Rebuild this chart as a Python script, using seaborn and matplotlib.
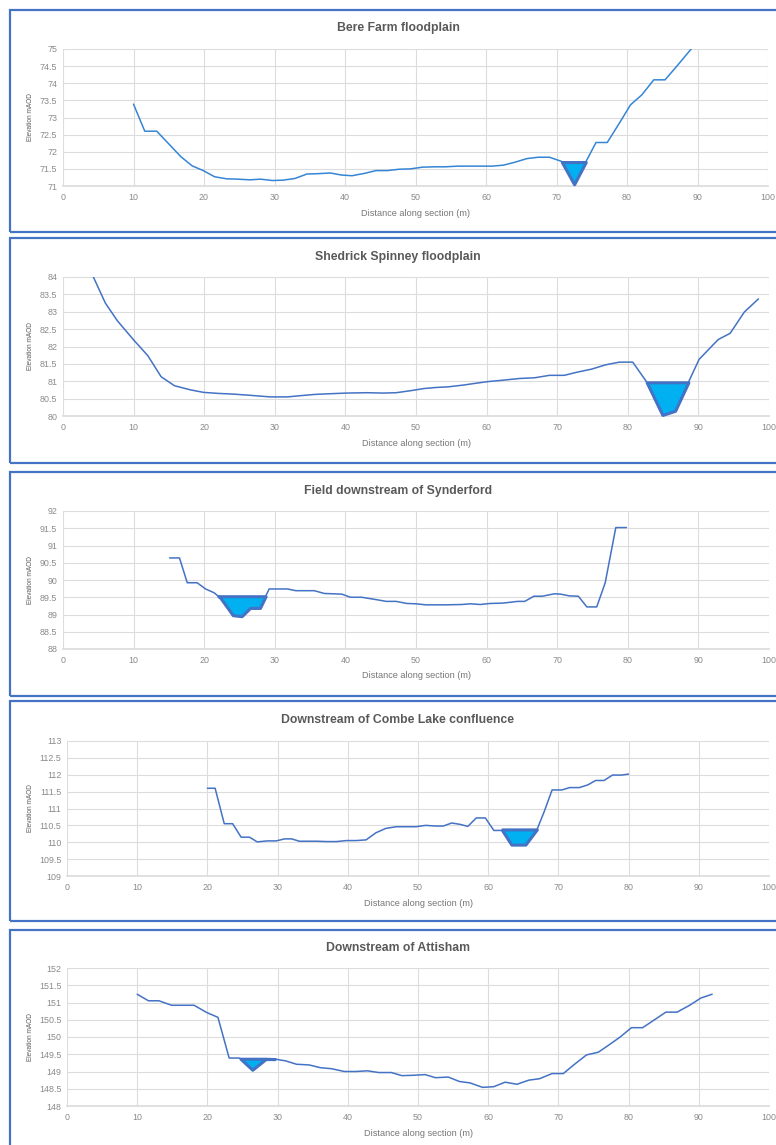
# ============================================
#  RIVER CROSS SECTIONS - FLOODPLAIN PROFILES
# ============================================

import numpy as np
import pandas as pd
import matplotlib
matplotlib.use("Agg")
import matplotlib.pyplot as plt
from matplotlib.patches import Rectangle
from matplotlib.ticker import FuncFormatter
import seaborn as sns


# ============================================
# DATA (read off the surveyed sections)
# ============================================

bere_x = [10, 11.6, 13.3, 15, 16.7, 18.3, 19.9, 21.5, 23.2, 24.8, 26.5, 28, 29.7, 31.2, 32.9, 34.6,
          36.2, 37.9, 39.5, 41, 42.8, 44.4, 46, 47.7, 49.3, 51, 52.7, 54.2, 56, 57.6, 59.3, 60.9,
          62.5, 64.2, 65.8, 67.4, 69, 70.7, 72.5, 75.6, 77.2, 78.9, 80.5, 82.1, 83.8, 85.4, 87.2, 89.1]
bere_z = [73.39, 72.6, 72.6, 72.23, 71.86, 71.59, 71.45, 71.27, 71.21, 71.2, 71.18, 71.2, 71.16, 71.17,
          71.22, 71.35, 71.36, 71.38, 71.32, 71.3, 71.37, 71.45, 71.45, 71.49, 71.5, 71.55, 71.56, 71.56,
          71.58, 71.58, 71.58, 71.58, 71.61, 71.7, 71.8, 71.84, 71.84, 71.72, 71.05, 72.27, 72.27, 72.83,
          73.37, 73.66, 74.1, 74.1, 74.53, 75.0]

shedrick_x = [4.3, 6.0, 7.7, 10.0, 12.0, 13.9, 15.8, 18.1, 19.9, 22.0, 24.1, 26.2, 29.3, 31.8, 33.9,
              35.6, 37.7, 40.2, 43.0, 45.4, 47.2, 49.3, 51.1, 52.8, 54.6, 56.7, 58.4, 60.2, 62.3, 64.7,
              66.8, 68.9, 71.0, 72.8, 74.9, 76.8, 78.8, 80.7, 82.6, 84.9, 86.7, 90.1, 92.8, 94.5, 96.5, 98.5]
shedrick_z = [84.0, 83.25, 82.74, 82.19, 81.74, 81.13, 80.87, 80.75, 80.68, 80.65, 80.63, 80.6, 80.55,
              80.55, 80.59, 80.62, 80.64, 80.66, 80.67, 80.66, 80.67, 80.73, 80.79, 80.82, 80.84, 80.89,
              80.94, 80.99, 81.03, 81.08, 81.1, 81.17, 81.17, 81.26, 81.35, 81.47, 81.55, 81.55, 81.0,
              80.03, 80.15, 81.63, 82.2, 82.38, 82.99, 83.37]

synder_x = [15.1, 16.5, 17.6, 19.0, 20.2, 21.4, 22.3, 24.05, 25.3, 26.5, 27.9, 29.2, 31.8, 33.0, 35.6,
            37.0, 39.5, 40.7, 42.3, 44.4, 45.8, 47.2, 48.7, 50.0, 51.4, 54.2, 56.5, 57.7, 59.1, 60.5,
            62.3, 64.4, 65.4, 66.7, 67.9, 69.6, 70.5, 71.7, 73.0, 74.2, 75.6, 76.8, 78.3, 79.8]
synder_z = [90.64, 90.64, 89.92, 89.92, 89.74, 89.63, 89.48, 88.98, 88.95, 89.19, 89.19, 89.74, 89.74,
            89.69, 89.69, 89.61, 89.59, 89.5, 89.5, 89.43, 89.38, 89.38, 89.32, 89.31, 89.28, 89.28,
            89.29, 89.31, 89.29, 89.32, 89.33, 89.38, 89.38, 89.53, 89.53, 89.6, 89.59, 89.54, 89.53,
            89.22, 89.22, 89.92, 91.52, 91.52]

combe_x = [20.0, 21.1, 22.4, 23.6, 24.8, 26.0, 27.1, 28.5, 29.8, 31.0, 32.0, 33.1, 35.6, 37.0, 38.4,
           39.8, 41.2, 42.6, 44.0, 45.4, 46.9, 49.7, 51.1, 52.5, 53.6, 54.8, 56.0, 57.1, 58.3, 59.6,
           60.8, 62.0, 63.3, 65.3, 67.0, 68.0, 69.1, 70.5, 71.6, 73.0, 74.2, 75.3, 76.5, 77.7, 79.0, 80.0]
combe_z = [111.6, 111.6, 110.55, 110.55, 110.15, 110.15, 110.01, 110.04, 110.04, 110.1, 110.1, 110.03,
           110.03, 110.02, 110.02, 110.05, 110.05, 110.07, 110.28, 110.41, 110.46, 110.46, 110.5, 110.48,
           110.48, 110.57, 110.53, 110.47, 110.72, 110.72, 110.35, 110.35, 109.93, 109.93, 110.4, 110.92,
           111.55, 111.55, 111.62, 111.62, 111.7, 111.83, 111.83, 111.99, 111.99, 112.02]

attisham_x = [10.0, 11.6, 13.1, 14.9, 16.5, 18.1, 19.9, 21.5, 23.1, 24.6, 26.4, 28.3, 29.6, 31.1, 32.7,
              34.5, 36.1, 37.7, 39.5, 41.1, 42.8, 44.4, 46.2, 47.7, 49.3, 51.0, 52.5, 54.3, 55.9, 57.4,
              59.2, 60.8, 62.4, 64.1, 65.8, 67.3, 69.1, 70.7, 72.3, 74.0, 75.7, 77.2, 78.8, 80.4, 82.0,
              83.7, 85.3, 86.9, 88.7, 90.3, 91.9]
attisham_z = [151.24, 151.05, 151.05, 150.92, 150.92, 150.92, 150.71, 150.57, 149.39, 149.39, 149.05,
              149.36, 149.36, 149.31, 149.21, 149.19, 149.11, 149.08, 149.0, 149.0, 149.02, 148.97,
              148.97, 148.88, 148.89, 148.91, 148.82, 148.84, 148.71, 148.67, 148.54, 148.56, 148.69,
              148.63, 148.75, 148.79, 148.94, 148.94, 149.21, 149.48, 149.56, 149.77, 150.0, 150.27,
              150.27, 150.5, 150.72, 150.72, 150.92, 151.13, 151.24]

titles = ["Bere Farm floodplain", "Shedrick Spinney floodplain", "Field downstream of Synderford",
          "Downstream of Combe Lake confluence", "Downstream of Attisham"]
y_bottoms = [71, 80, 88, 109, 148]
water_levels = [71.7, 80.97, 89.53, 110.38, 149.37]
channel_windows = [(70, 75), (81.5, 90), (21, 29.5), (61.9, 68), (24.5, 28.5)]
x_ticks = list(range(0, 101, 10))

# ============================================
# STYLE AND LAYOUT (pixels on a 776x1145 canvas)
# ============================================

W, H = 776, 1145
GRID = "#DCDCDC"
TITLE_COLOR = "#595959"
TICK_COLOR = "#8A8A8A"
LABEL_COLOR = "#767676"
BOX = "#4472C4"
WATER = "#00B0F0"
LINE_COLORS = ["#3585D5", "#4472C4", "#4472C4", "#4472C4", "#4472C4"]

# (left, top, right, bottom) of each plot area
AXES_PX = [(63, 49, 768, 186), (63, 277, 769, 416), (63, 511, 769, 649),
           (67, 741, 769, 876), (67, 968, 769, 1106)]
BOX_PX = [(10, 10, 232), (10, 238, 463), (10, 472, 696), (10, 701, 921), (10, 930, 1160)]
TITLE_Y = [28, 257, 491, 720, 948]
XLABEL_Y = [213, 443, 676, 903, 1133]


def draw_section(ax, x, z, level, window, bottom, color):
    """Ground profile plus the water in the channel"""
    df = pd.DataFrame({"distance": x, "elevation": z})
    sns.lineplot(data=df, x="distance", y="elevation", ax=ax, color=color,
                 linewidth=1.1, sort=False, estimator=None)

    xs = np.array(x)
    zs = np.array(z)
    in_channel = (xs >= window[0]) & (xs <= window[1]) & (zs < level)
    ax.fill_between(xs, zs, level, where=in_channel, interpolate=True,
                    facecolor=WATER, edgecolor=BOX, linewidth=2.2, zorder=3)

    ax.set_xlim(0, 100)
    ax.set_ylim(bottom, bottom + 4)
    ax.set_xticks(x_ticks)
    ax.set_yticks(np.arange(bottom, bottom + 4.01, 0.5))
    ax.yaxis.set_major_formatter(FuncFormatter(lambda v, p: f"{v:g}"))
    ax.set_xlabel("")
    ax.set_ylabel("")
    ax.grid(True, color=GRID, linewidth=0.8)
    for side in ["top", "right", "left"]:
        ax.spines[side].set_visible(False)
    ax.spines["bottom"].set_color(GRID)
    ax.tick_params(axis="both", length=0, labelsize=6.4, colors=TICK_COLOR)
    ax.tick_params(axis="y", pad=4)
    ax.tick_params(axis="x", pad=5)


# ============================================
# BUILD THE FIGURE
# ============================================

sns.set_theme(style="whitegrid")
plt.rcParams["font.family"] = ["Liberation Sans", "DejaVu Sans"]

fig = plt.figure(figsize=(W / 100, H / 100), dpi=100)
fig.patch.set_facecolor("white")

profiles = [(bere_x, bere_z), (shedrick_x, shedrick_z), (synder_x, synder_z),
            (combe_x, combe_z), (attisham_x, attisham_z)]

for i, (x, z) in enumerate(profiles):
    bl, bt, bb = BOX_PX[i]
    fig.patches.append(Rectangle((bl / W, 1 - bb / H), (790 - bl) / W, (bb - bt) / H,
                                 transform=fig.transFigure, facecolor="none",
                                 edgecolor=BOX, linewidth=1.6, zorder=-1))

    l, t, r, b = AXES_PX[i]
    ax = fig.add_axes([l / W, 1 - b / H, (r - l) / W, (b - t) / H])
    ax.set_facecolor("white")
    draw_section(ax, x, z, water_levels[i], channel_windows[i], y_bottoms[i], LINE_COLORS[i])

    fig.text(398 / W, 1 - TITLE_Y[i] / H, titles[i], ha="center", va="center",
             fontsize=8.8, fontweight="bold", color=TITLE_COLOR)
    fig.text((l + r) / 2 / W, 1 - XLABEL_Y[i] / H, "Distance along section (m)",
             ha="center", va="center", fontsize=6.6, color=LABEL_COLOR)
    fig.text(30 / W, 1 - (t + b) / 2 / H, "Elevation mAOD", rotation=90, ha="center",
             va="center", fontsize=4.7, color=TITLE_COLOR)

fig.savefig("out.png", dpi=100, facecolor="white")
